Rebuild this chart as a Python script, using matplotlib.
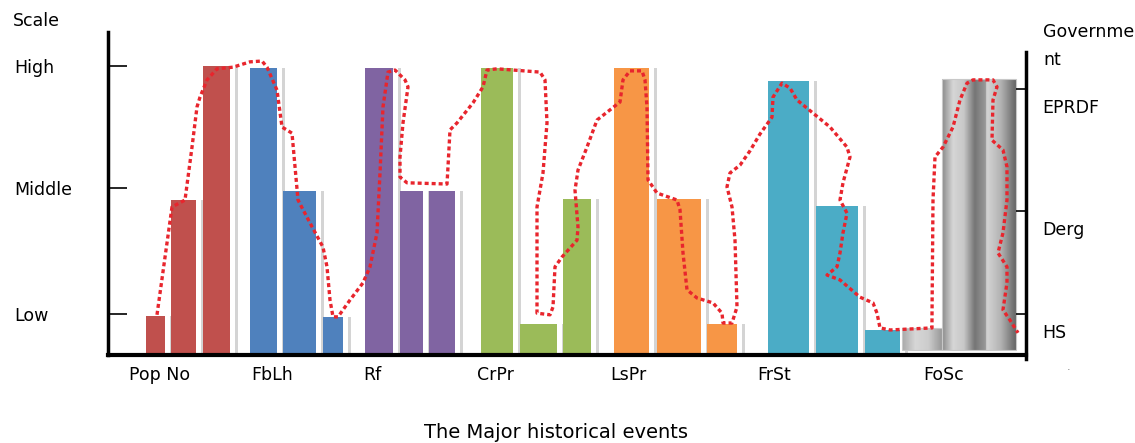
import numpy as np
import matplotlib.pyplot as plt
import matplotlib.transforms as mtransforms

# --- data ---
scale_labels = ['Low', 'Middle', 'High']
scale_levels = [1.0, 4.07, 7.05]

gov_labels = ['HS', 'Derg', 'EPRDF']
gov_levels = [1.0, 3.51, 6.49]

events = ['Pop No', 'FbLh', 'Rf', 'CrPr', 'LsPr', 'FrSt', 'FoSc']
pop_no = [0.95, 3.78, 7.05]
fb_lh = [7.0, 4.0, 0.93]
rf = [7.0, 4.0, 4.0]
cr_pr = [7.0, 0.76, 3.8]
ls_pr = [7.0, 3.8, 0.76]
fr_st = [6.68, 3.63, 0.6]
fo_sc = [0.66, 6.73, 6.73]

# government line (red dotted), position along the event axis / level
gov_x = [157, 172, 185, 192, 197, 200, 207, 217, 233, 250, 262, 267, 277, 282,
         292, 295, 298, 310, 323, 327, 330, 333, 338, 350, 363, 370, 377, 380,
         383, 388, 395, 405, 408, 403, 400, 400, 407, 447, 448, 450, 457, 473,
         483, 487, 497, 540, 545, 547, 543, 537, 537, 550, 553, 555, 562, 577,
         578, 575, 578, 587, 597, 620, 623, 630, 642, 645, 647, 648, 657, 677,
         680, 683, 687, 697, 713, 722, 723, 732, 737, 735, 732, 727, 730, 740,
         750, 760, 772, 773, 782, 790, 797, 813, 830, 847, 850, 843, 840, 847,
         843, 840, 837, 827, 840, 860, 873, 877, 880, 890, 932, 932, 933, 935,
         943, 953, 960, 967, 973, 993, 997, 993, 992, 1003, 1007, 1007, 1003,
         998, 1007, 1007, 1003, 1010, 1018]
gov_y = [0.98, 3.61, 3.78, 5.07, 6.05, 6.29, 6.71, 6.98, 7.02, 7.15, 7.17, 7.02,
         6.46, 5.56, 5.41, 4.59, 3.78, 3.22, 2.63, 2.15, 1.34, 0.93, 0.93, 1.34,
         1.76, 2.15, 2.98, 4.44, 6.05, 6.90, 6.95, 6.71, 6.54, 5.66, 4.83, 4.34,
         4.20, 4.17, 4.59, 5.49, 5.66, 6.15, 6.54, 6.95, 6.98, 6.90, 6.71, 5.66,
         4.44, 3.61, 1.02, 0.98, 1.17, 2.15, 2.39, 2.80, 3.12, 4.02, 4.51, 5.07,
         5.73, 6.17, 6.71, 6.93, 6.93, 6.71, 6.05, 4.27, 3.95, 3.78, 3.54, 2.49,
         1.59, 1.39, 1.27, 1.02, 0.78, 0.78, 1.17, 2.80, 3.61, 4.10, 4.44, 4.63,
         4.98, 5.39, 5.80, 6.29, 6.63, 6.51, 6.22, 5.90, 5.56, 5.07, 4.83, 4.20,
         3.78, 3.46, 2.98, 2.49, 2.15, 1.95, 1.83, 1.41, 1.27, 1.02, 0.66, 0.61,
         0.66, 0.93, 3.78, 4.83, 5.07, 5.56, 6.22, 6.63, 6.71, 6.71, 6.54, 6.22,
         5.24, 5.00, 4.59, 3.78, 2.98, 2.49, 2.15, 1.76, 1.10, 0.85, 0.54]

# --- layout / style ---
groups = [pop_no, fb_lh, rf, cr_pr, ls_pr, fr_st, fo_sc]
bar_left = [[146, 171, 203], [250, 283, 323], [365, 400, 429], [481, 520, 563],
            [614, 657, 707], [768, 816, 865], [902, 942, 986]]
bar_width = [[19, 25, 27], [27, 33, 20], [28, 23, 26], [32, 37, 28],
             [35, 44, 30], [41, 42, 35], [40, 44, 30]]
colors = ['#c0504d', '#4f81bd', '#8064a2', '#9bbb59', '#f79646', '#4bacc6']
label_x = [160, 272, 372, 495, 628, 774, 944]
gray_stops = [[0.66, 0.84, 0.80, 0.60], [0.55, 0.84, 0.78, 0.46, 0.60],
              [0.84, 0.70, 0.40]]

plt.rcParams['font.family'] = 'DejaVu Sans'
fig = plt.figure(figsize=(11.35, 4.43), dpi=100)
ax = fig.add_axes([108 / 1135, 84 / 443, 918 / 1135, 327 / 443])

for i, vals in enumerate(groups[:6]):
    for left, w, v in zip(bar_left[i], bar_width[i], vals):
        ax.bar(left + w + 5, v, width=2.5, align='edge', color='#d4d4d4', zorder=1)
        ax.bar(left, v, width=w, align='edge', color=colors[i], zorder=2)

# grey cylinder-like bars of the last event
for left, w, v, stops in zip(bar_left[6], bar_width[6], fo_sc, gray_stops):
    patch = ax.bar(left, v - 0.12, width=w, bottom=0.12, align='edge',
                   facecolor='none', edgecolor='#c8c8c8', lw=0.8, zorder=3)[0]
    grad = np.interp(np.linspace(0, 1, 64), np.linspace(0, 1, len(stops)), stops)
    im = ax.imshow(grad[None, :], cmap='gray', vmin=0, vmax=1, aspect='auto',
                   extent=[left, left + w, 0.12, v], zorder=2)
    im.set_clip_path(patch)
ax.set_xlim(108, 1026)
ax.set_ylim(-0.098, 7.878)

ax.plot(gov_x, gov_y, color='#e8252d', lw=2.4, linestyle=(0, (1.2, 0.9)),
        zorder=5)

for s in ['top', 'right']:
    ax.spines[s].set_visible(False)
ax.spines['left'].set_linewidth(2.5)
ax.spines['left'].set_bounds(0, 7.878)
ax.spines['bottom'].set_position(('data', 0))
ax.spines['bottom'].set_linewidth(3)

ax.set_yticks(scale_levels)
ax.set_yticklabels(scale_labels)
ax.tick_params(axis='y', direction='in', length=14, width=1.2, pad=67.7,
               labelsize=12.5)
for t in ax.get_yticklabels():
    t.set_horizontalalignment('left')

ax.set_xticks(label_x)
ax.set_xticklabels(events)
ax.tick_params(axis='x', length=0, pad=8, labelsize=12.5)

ax2 = ax.twinx()
ax2.set_ylim(-0.098, 7.878)
for s in ['top', 'left', 'bottom']:
    ax2.spines[s].set_visible(False)
ax2.spines['right'].set_linewidth(2.5)
ax2.spines['right'].set_bounds(-0.098, 7.39)
ax2.set_yticks(gov_levels)
ax2.set_yticklabels(gov_labels)
ax2.tick_params(axis='y', direction='in', length=7, width=1.2, pad=12,
                labelsize=12.5)
shift = mtransforms.ScaledTranslation(0, -0.17, fig.dpi_scale_trans)
for t in ax2.get_yticklabels():
    t.set_transform(t.get_transform() + shift)

fig.text(13 / 1135, 1 - 21 / 443, 'Scale', fontsize=12.5, ha='left', va='center')
fig.text(1043 / 1135, 1 - 46 / 443, 'Governme\nnt', fontsize=12.5, ha='left',
         va='center', linespacing=1.65)
fig.text(1067 / 1135, 1 - 370 / 443, '.', fontsize=8, color='#777777')
fig.text(556 / 1135, 1 - 432 / 443, 'The Major historical events', fontsize=14,
         ha='center', va='center')

fig.savefig('out.png', dpi=100)
